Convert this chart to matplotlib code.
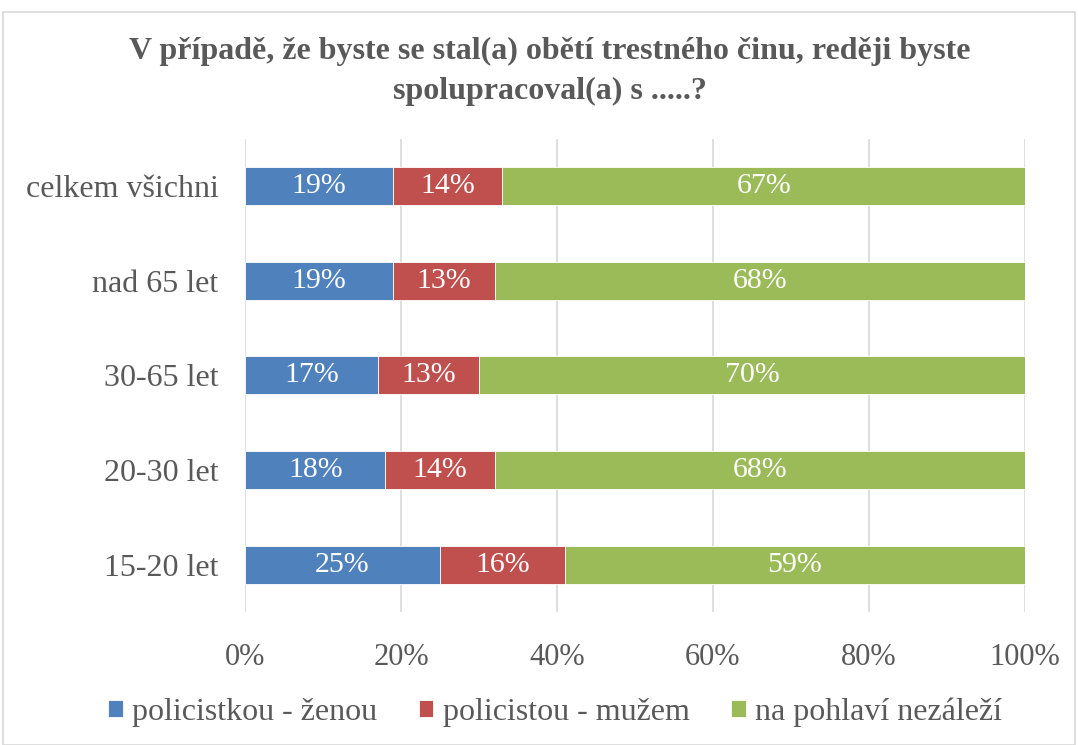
#!/usr/bin/env python3
"""Stacked 100% bar chart: preferred police officer gender by age group."""

import matplotlib.pyplot as plt
from matplotlib.patches import Rectangle

categories = ["15-20 let", "20-30 let", "30-65 let", "nad 65 let", "celkem všichni"]
series_names = ["policistkou - ženou", "policistou - mužem", "na pohlaví nezáleží"]
zenou = [25, 18, 17, 19, 19]
muzem = [16, 14, 13, 13, 14]
nezalezi = [59, 68, 70, 68, 67]
colors = ["#4F81BD", "#C0504D", "#9BBB59"]
xticks = [0, 20, 40, 60, 80, 100]
title = ("V případě, že byste se stal(a) obětí trestného činu, reději byste\n"
         "spolupracoval(a) s .....?")

TEXT = "#595959"


def main():
    plt.rcParams["font.family"] = ["Liberation Serif", "DejaVu Serif"]
    fig = plt.figure(figsize=(10.78, 7.45), dpi=100)
    fig.patches.append(Rectangle((0.003, 0.0), 0.994, 0.984, transform=fig.transFigure,
                                 fill=False, edgecolor="#D9D9D9", linewidth=1.2))
    ax = fig.add_axes([0.2273, 0.1785, 0.7235, 0.6355])

    ypos = range(len(categories))
    left = [0] * len(categories)
    for name, vals, col in zip(series_names, [zenou, muzem, nezalezi], colors):
        bars = ax.barh(ypos, vals, left=left, height=0.4, color=col, label=name,
                       edgecolor="white", linewidth=0.6, zorder=3)
        for bar, v in zip(bars, vals):
            ax.text(bar.get_x() + bar.get_width() / 2, bar.get_y() + bar.get_height() / 2,
                    f"{v}%", ha="center", va="center", color="white", fontsize=21.5, zorder=4)
        left = [a + b for a, b in zip(left, vals)]

    ax.set_xlim(0, 100)
    ax.set_ylim(-0.5, len(categories) - 0.5)
    ax.set_xticks(xticks)
    ax.set_xticklabels([f"{t}%" for t in xticks])
    ax.set_yticks(list(ypos))
    ax.set_yticklabels(categories)
    ax.tick_params(axis="x", length=0, labelsize=22, labelcolor=TEXT, pad=22)
    ax.tick_params(axis="y", length=0, labelsize=23, labelcolor=TEXT, pad=19)
    ax.grid(axis="x", color="#D9D9D9", linewidth=1.2, zorder=0)
    for s in ax.spines.values():
        s.set_visible(False)

    fig.text(0.51, 0.904, title, ha="center", va="center", fontsize=23,
             fontweight="bold", color=TEXT, linespacing=1.5)

    fig.legend(loc="center", bbox_to_anchor=(0.515, 0.044), ncol=3, frameon=False,
               fontsize=23, labelcolor=TEXT, handlelength=0.45, handleheight=0.45,
               handletextpad=0.3, columnspacing=1.3)

    fig.savefig("out.png", dpi=100)


if __name__ == "__main__":
    main()
